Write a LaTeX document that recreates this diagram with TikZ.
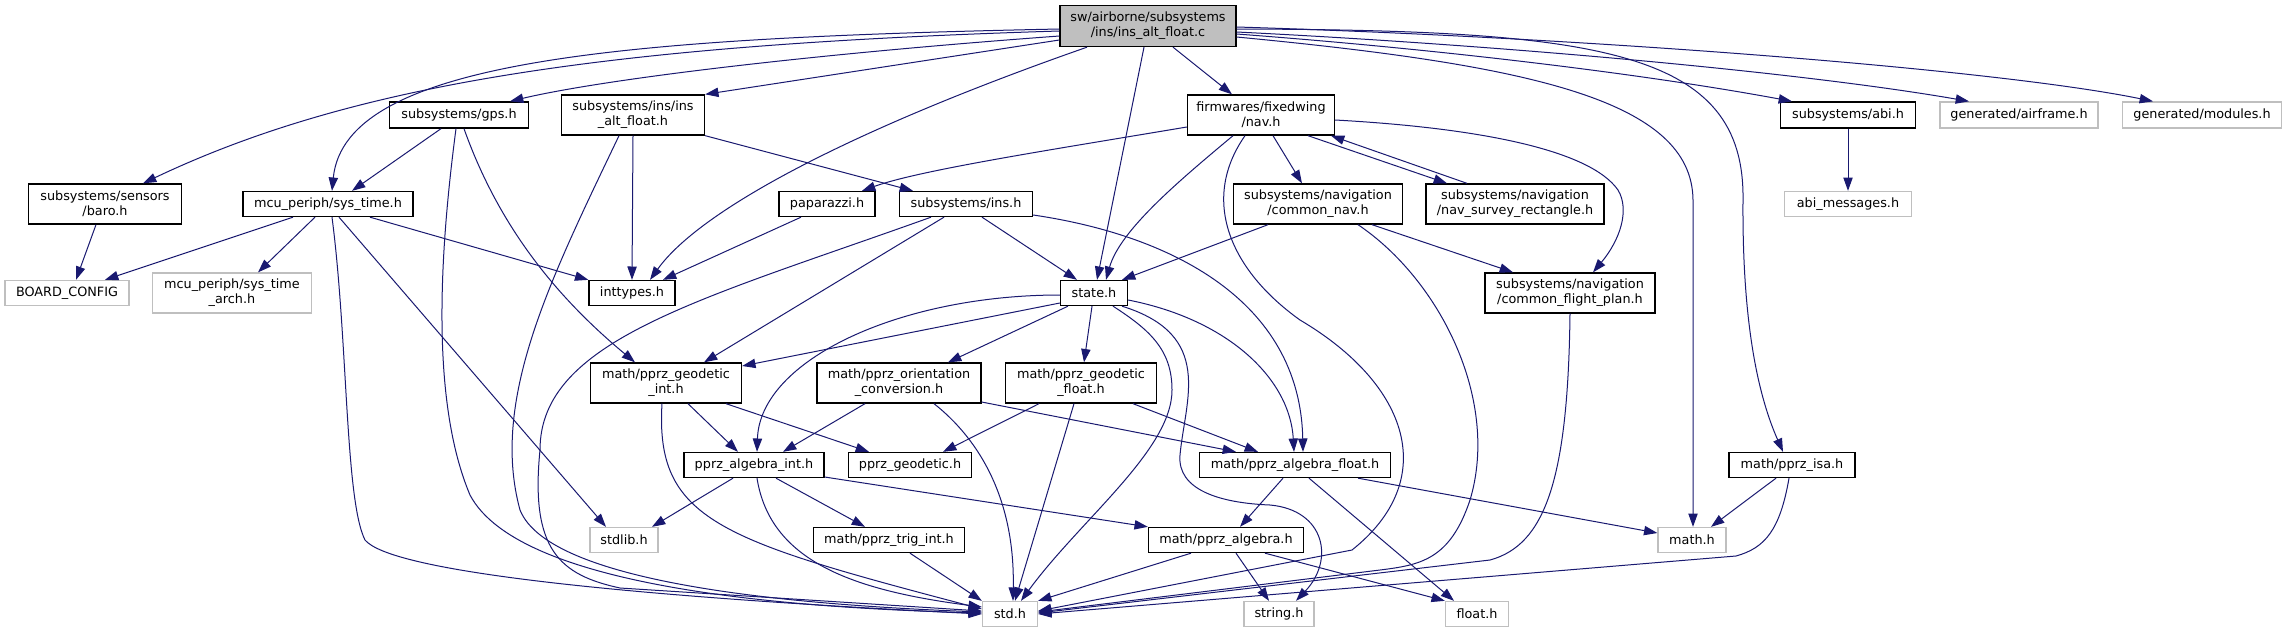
\documentclass[tikz,border=0pt]{standalone}
\usepackage{fontspec}
\setmainfont{DejaVu Sans}
\usetikzlibrary{arrows.meta,calc}
\definecolor{edgeblue}{HTML}{191970}
\definecolor{boxgray}{HTML}{BFBFBF}
\begin{document}
\begin{tikzpicture}[x=0.75pt,y=-0.75pt,
  every node/.style={font=\fontsize{9.6pt}{11.25pt}\selectfont, inner sep=0pt, align=center},
  bx/.style 2 args={rectangle, minimum width=#1*0.75pt, minimum height=#2*0.75pt},
  fb/.style={draw=black, line width=1pt, fill=white},
  gb/.style={draw=boxgray, line width=1pt, fill=white},
  mb/.style={draw=black, line width=1pt, fill=boxgray},
  dep/.style={draw=edgeblue, line width=0.75pt, -{Triangle[length=10pt,width=7pt]}, line join=round}
]
\fill[white] (0,0) rectangle (2287,633);
\useasboundingbox (0,0) rectangle (2287,633);

% nodes
\node[mb,bx={176}{41}] (main) at (1148,26) {sw/airborne/subsystems\\/ins/ins\_alt\_float.c};
\node[fb,bx={153}{40}] (baro) at (105,204) {subsystems/sensors\\/baro.h};
\node[fb,bx={139}{26}] (gps) at (459,115) {subsystems/gps.h};
\node[fb,bx={143}{40}] (insalt) at (633,115) {subsystems/ins/ins\\\_alt\_float.h};
\node[fb,bx={170}{25}] (systime) at (328,204) {mcu\_periph/sys\_time.h};
\node[gb,bx={124}{25}] (board) at (67,293) {BOARD\_CONFIG};
\node[gb,bx={159}{40}] (arch) at (232,293) {mcu\_periph/sys\_time\\\_arch.h};
\node[fb,bx={86}{25}] (inttypes) at (632,293) {inttypes.h};
\node[fb,bx={147}{40}] (nav) at (1261,115) {firmwares/fixedwing\\/nav.h};
\node[fb,bx={96}{25}] (paparazzi) at (827,204) {paparazzi.h};
\node[fb,bx={133}{25}] (ins) at (966,204) {subsystems/ins.h};
\node[fb,bx={169}{40}] (cnav) at (1318,204) {subsystems/navigation\\/common\_nav.h};
\node[fb,bx={178}{40}] (survey) at (1515,204) {subsystems/navigation\\/nav\_survey\_rectangle.h};
\node[fb,bx={67}{25}] (state) at (1094,293) {state.h};
\node[fb,bx={170}{40}] (cfp) at (1570,293) {subsystems/navigation\\/common\_flight\_plan.h};
\node[fb,bx={135}{26}] (abi) at (1848,115) {subsystems/abi.h};
\node[gb,bx={158}{26}] (airframe) at (2019,115) {generated/airframe.h};
\node[gb,bx={159}{26}] (modules) at (2202,115) {generated/modules.h};
\node[gb,bx={127}{25}] (abimsg) at (1848,204) {abi\_messages.h};
\node[fb,bx={151}{40}] (geoint) at (666,383) {math/pprz\_geodetic\\\_int.h};
\node[fb,bx={140}{25}] (algint) at (754,465) {pprz\_algebra\_int.h};
\node[gb,bx={68}{25}] (stdlib) at (624,540) {stdlib.h};
\node[fb,bx={164}{40}] (orient) at (899,383) {math/pprz\_orientation\\\_conversion.h};
\node[fb,bx={151}{40}] (geofloat) at (1081,383) {math/pprz\_geodetic\\\_float.h};
\node[fb,bx={123}{25}] (geodetic) at (910,465) {pprz\_geodetic.h};
\node[fb,bx={191}{25}] (algfloat) at (1295,465) {math/pprz\_algebra\_float.h};
\node[fb,bx={151}{25}] (trigint) at (889,540) {math/pprz\_trig\_int.h};
\node[fb,bx={155}{25}] (alg) at (1226,540) {math/pprz\_algebra.h};
\node[gb,bx={55}{25}] (std) at (1010,614) {std.h};
\node[gb,bx={70}{25}] (string) at (1279,614) {string.h};
\node[gb,bx={63}{25}] (float) at (1477,614) {float.h};
\node[fb,bx={126}{25}] (isa) at (1792,465) {math/pprz\_isa.h};
\node[gb,bx={68}{25}] (math) at (1692,540) {math.h};

% main
\draw[dep] ($(main.west)+(0,5)$) .. controls (600,45) and (350,85) .. ($(baro.north)+(38,0)$);
\draw[dep] ($(main.west)+(0,3)$) .. controls (620,38) and (345,60) .. ($(systime.north)+(4,0)$);
\draw[dep] ($(main.west)+(0,10)$) .. controls (800,55) and (600,80) .. ($(gps.north)+(51,0)$);
\draw[dep] ($(main.west)+(0,14)$) -- (insalt.north east);
\draw[dep] ($(main.south)+(-61,0)$) .. controls (850,130) and (700,210) .. ($(inttypes.north)+(18,0)$);
\draw[dep] ($(main.south)+(-4,0)$) -- ($(state.north)+(3,0)$);
\draw[dep] ($(main.south)+(25,0)$) -- ($(nav.north)+(-29,0)$);
\draw[dep] ($(main.east)+(0,8)$) .. controls (1450,50) and (1650,75) .. ($(abi.north)+(-56,0)$);
\draw[dep] ($(main.east)+(0,6)$) .. controls (1500,45) and (1800,72) .. ($(airframe.north)+(-50,0)$);
\draw[dep] ($(main.east)+(0,1)$) .. controls (1600,38) and (2000,70) .. ($(modules.north)+(-49,0)$);
\draw[dep] ($(main.east)+(0,3)$) .. controls (1600,30) and (1745,50) .. (1743,200) .. controls (1742,330) and (1760,400) .. ($(isa.north)+(-9,0)$);
\draw[dep] ($(main.east)+(0,11)$) .. controls (1530,65) and (1692,100) .. (1693,200) -- ($(math.north)+(1,0)$);
% baro
\draw[dep] ($(baro.south)+(-9,0)$) -- ($(board.north)+(9,0)$);
% gps
\draw[dep] ($(gps.south)+(-18,0)$) -- ($(systime.north)+(24,0)$);
\draw[dep] ($(gps.south)+(-3,0)$) .. controls (440,250) and (430,400) .. (470,495) .. controls (520,590) and (800,608) .. ($(std.west)+(0,-1)$);
\draw[dep] ($(gps.south)+(5,0)$) .. controls (500,230) and (560,300) .. ($(geoint.north)+(-31,0)$);
% insalt
\draw[dep] (insalt.south) -- (inttypes.north);
\draw[dep] ($(insalt.south)+(-14,0)$) .. controls (550,280) and (490,400) .. (520,510) .. controls (550,585) and (800,605) .. ($(std.west)+(0,-2)$);
\draw[dep] (insalt.south east) -- ($(ins.north)+(-53,0)$);
% systime
\draw[dep] ($(systime.south)+(-35,0)$) -- ($(board.north)+(38,0)$);
\draw[dep] ($(systime.south)+(-13,0)$) -- ($(arch.north)+(26,0)$);
\draw[dep] ($(systime.south)+(4,0)$) .. controls (348,340) and (345,500) .. (365,540) .. controls (390,570) and (600,595) .. (std.west);
\draw[dep] ($(systime.south)+(11,0)$) -- ($(stdlib.north)+(-18,0)$);
\draw[dep] ($(systime.south)+(42,0)$) -- (inttypes.north west);
% paparazzi
\draw[dep] ($(paparazzi.south)+(-26,0)$) -- ($(inttypes.north)+(31,0)$);
% nav
\draw[dep] ($(nav.west)+(0,12)$) .. controls (1050,150) and (920,170) .. ($(paparazzi.north)+(35,0)$);
\draw[dep] ($(nav.south)+(-28,0)$) .. controls (1180,180) and (1120,230) .. ($(state.north)+(12,0)$);
\draw[dep] ($(nav.south)+(-16,0)$) .. controls (1200,200) and (1230,270) .. (1300,320) .. controls (1410,385) and (1440,480) .. (1352,550) -- ($(std.east)+(0,-3)$);
\draw[dep] ($(nav.south)+(12,0)$) -- ($(cnav.north)+(-16,0)$);
\draw[dep] ($(nav.south)+(47,0)$) -- ($(survey.north)+(-68,0)$);
\draw[dep] ($(survey.north)+(-48,0)$) -- ($(nav.south)+(70,0)$);
\draw[dep] ($(nav.east)+(0,5)$) .. controls (1480,128) and (1590,150) .. (1618,190) .. controls (1630,210) and (1620,240) .. ($(cfp.north)+(23,0)$);
% cnav
\draw[dep] ($(cnav.south)+(-50,0)$) -- ($(state.north)+(28,0)$);
\draw[dep] ($(cnav.south)+(54,0)$) -- ($(cfp.north)+(-57,0)$);
\draw[dep] ($(cnav.south)+(40,0)$) .. controls (1440,280) and (1500,400) .. (1470,500) .. controls (1450,560) and (1420,565) .. (1380,570) -- ($(std.east)+(0,-2)$);
% cfp
\draw[dep] (cfp.south) .. controls (1568,480) and (1545,545) .. (1490,560) -- ($(std.east)+(0,-1)$);
% ins
\draw[dep] ($(ins.south)+(16,0)$) -- ($(state.north)+(-17,0)$);
\draw[dep] ($(ins.south)+(-35,0)$) .. controls (700,300) and (540,340) .. (540,450) .. controls (530,550) and (560,575) .. (620,588) -- ($(std.west)+(0,-3)$);
\draw[dep] ($(ins.south)+(-22,0)$) -- ($(geoint.north)+(38,0)$);
\draw[dep] ($(ins.east)+(0,11)$) .. controls (1170,235) and (1300,300) .. ($(algfloat.north)+(8,0)$);
% state
\draw[dep] ($(state.west)+(0,10)$) -- ($(geoint.east)+(0,-17)$);
\draw[dep] ($(state.west)+(0,2)$) .. controls (900,295) and (760,360) .. ($(algint.north)+(3,0)$);
\draw[dep] ($(state.south)+(-26,0)$) -- ($(orient.north)+(49,0)$);
\draw[dep] ($(state.south)+(-2,0)$) -- ($(geofloat.north)+(3,0)$);
\draw[dep] ($(state.south)+(19,0)$) .. controls (1150,330) and (1172,350) .. (1172,390) .. controls (1172,450) and (1080,520) .. ($(std.north)+(11,0)$);
\draw[dep] ($(state.south)+(28,0)$) .. controls (1215,335) and (1185,400) .. (1180,455) .. controls (1177,490) and (1220,503) .. (1270,505) .. controls (1325,510) and (1335,560) .. ($(string.north)+(17,0)$);
\draw[dep] ($(state.east)+(0,7)$) .. controls (1230,320) and (1290,380) .. ($(algfloat.north)+(-1,0)$);
% orient
\draw[dep] ($(orient.south)+(-34,0)$) -- ($(algint.north)+(29,0)$);
\draw[dep] ($(orient.east)+(0,19)$) -- ($(algfloat.north)+(-59,0)$);
\draw[dep] ($(orient.south)+(35,0)$) .. controls (980,440) and (1015,500) .. ($(std.north)+(3,0)$);
% geofloat
\draw[dep] ($(geofloat.south)+(-42,0)$) -- ($(geodetic.north)+(33,0)$);
\draw[dep] ($(geofloat.south)+(52,0)$) -- ($(algfloat.north)+(-37,0)$);
\draw[dep] ($(geofloat.south)+(-7,0)$) -- ($(std.north)+(5,0)$);
% geoint
\draw[dep] ($(geoint.south)+(22,0)$) -- ($(algint.north)+(-16,0)$);
\draw[dep] ($(geoint.south)+(60,0)$) -- ($(geodetic.north)+(-41,0)$);
\draw[dep] ($(geoint.south)+(-4,0)$) .. controls (655,520) and (720,540) .. ($(std.west)+(0,-5)$);
% algint
\draw[dep] ($(algint.south)+(-21,0)$) -- ($(stdlib.north)+(28,0)$);
\draw[dep] ($(algint.south)+(3,0)$) .. controls (770,560) and (850,590) .. ($(std.west)+(0,-7)$);
\draw[dep] ($(algint.south)+(22,0)$) -- ($(trigint.north)+(-24,0)$);
\draw[dep] ($(algint.east)+(0,12)$) -- (alg.north west);
% trigint
\draw[dep] ($(trigint.south)+(21,0)$) -- (std.north west);
% algfloat
\draw[dep] ($(algfloat.south)+(-12,0)$) -- ($(alg.north)+(14,0)$);
\draw[dep] ($(algfloat.south)+(14,0)$) -- ($(float.north)+(-23,0)$);
\draw[dep] ($(algfloat.south)+(63,0)$) -- ($(math.west)+(0,-7)$);
% alg
\draw[dep] ($(alg.south)+(-35,0)$) -- (std.north east);
\draw[dep] ($(alg.south)+(10,0)$) -- ($(string.north)+(-10,0)$);
\draw[dep] ($(alg.south)+(39,0)$) -- (float.north west);
% isa
\draw[dep] ($(isa.south)+(-16,0)$) -- ($(math.north)+(19,0)$);
\draw[dep] ($(isa.south)+(-3,0)$) .. controls (1780,530) and (1765,548) .. (1736,556) -- (std.east);
% abi
\draw[dep] (abi.south) -- (abimsg.north);
\end{tikzpicture}
\end{document}
